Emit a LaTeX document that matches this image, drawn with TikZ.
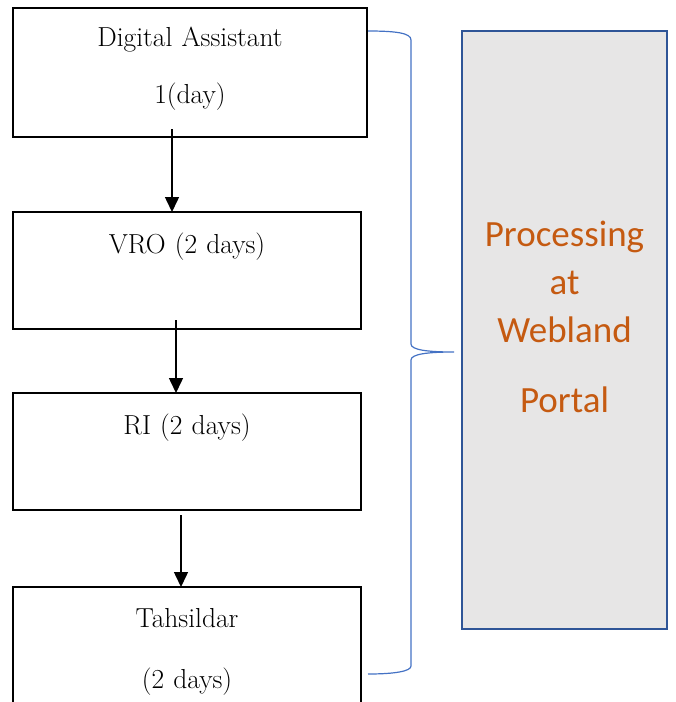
\documentclass[tikz,border=0pt]{standalone}
\usepackage{fontspec}
\usepackage{xcolor}
\usetikzlibrary{positioning,arrows.meta}
\newfontfamily\portalfont{Carlito}
\definecolor{braceblue}{HTML}{4472C4}
\definecolor{frameblue}{HTML}{2F5597}
\definecolor{portalgray}{HTML}{E7E6E6}
\definecolor{portalorange}{HTML}{C55A11}

\begin{document}
\begin{tikzpicture}[x=1pt,y=-1pt,>={Triangle[length=15pt,width=14pt]},
    stage box/.style={rectangle,draw,line width=1.6pt,inner sep=0pt,outer sep=0pt,align=center,font=\fontsize{27.5}{57}\selectfont},
    portal box/.style={rectangle,draw=frameblue,fill=portalgray,line width=2.2pt,inner sep=0pt,outer sep=0pt,align=center,text=portalorange,font=\portalfont\fontsize{37}{48}\selectfont}]

                \useasboundingbox (0,0) rectangle (676,702);

                \node[stage box, text width=354pt, text height=38pt, text depth=91pt, anchor=north west] (1) at (13,8) {Digital Assistant\\1(day)};
                \node[stage box, text width=348pt, text height=41pt, text depth=76pt] (2)[below=75pt of 1.south west, anchor=north west] {VRO (2 days)};
                \node[stage box, text width=348pt, text height=41pt, text depth=76pt] (3)[below=64pt of 2.south west, anchor=north west] {RI (2 days)};
                \node[stage box, text width=348pt, text height=40pt, text depth=130pt] (4)[below=77pt of 3.south west, anchor=north west] {Tahsildar\\[4pt](2 days)};

                \node[portal box, text width=205pt, text height=215pt, text depth=383pt, anchor=north] (5) at (564.5,31) {Processing\\at\\Webland\\[22pt]Portal};

                \path[->, line width=1.5pt]
                    ([xshift=-18pt,yshift=8pt]1.south) edge ([xshift=-15pt]2.north)
                    ([xshift=-11pt,yshift=9pt]2.south) edge ([xshift=-11pt]3.north)
                    ([xshift=-6pt,yshift=-5pt]3.south) edge ([xshift=-6pt]4.north)
                ;

                \draw[braceblue, line width=1.2pt] (368,31) .. controls (396,31) and (411,33) .. (411,40) -- (411,344)
                    .. controls (411,350) and (428,352) .. (454,352) .. controls (428,352) and (411,354) .. (411,360) -- (411,666)
                    .. controls (411,671) and (396,674) .. (368,674);
            \end{tikzpicture}
\end{document}
